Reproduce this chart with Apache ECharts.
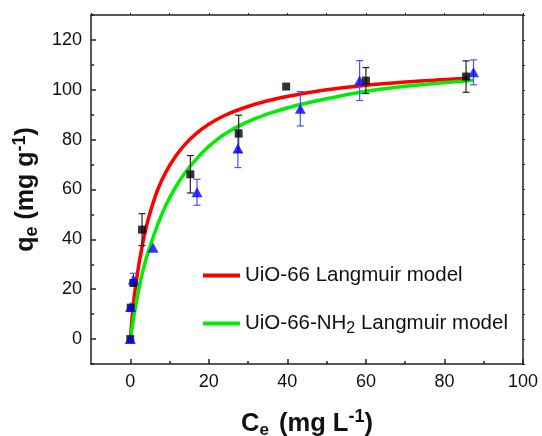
<!DOCTYPE html>
<html>
<head>
<meta charset="utf-8">
<script src="https://cdn.jsdelivr.net/npm/echarts@6/dist/echarts.min.js"></script>
<style>
  html, body { margin: 0; padding: 0; background: #fff; }
  #chart { width: 542px; height: 436px; }
</style>
</head>
<body>
<div id="chart"></div>
<script>
// tick labels
var xTickLabels = [0, 20, 40, 60, 80, 100];
var xMinorTicks = [10, 30, 50, 70, 90];
var yTickLabels = [0, 20, 40, 60, 80, 100, 120];
var yMinorTicks = [-10, 10, 30, 50, 70, 90, 110, 130];
var allXTicks = [-10, 0, 10, 20, 30, 40, 50, 60, 70, 80, 90, 100];
var allYTicks = [-10, 0, 10, 20, 30, 40, 50, 60, 70, 80, 90, 100, 110, 120, 130];

// UiO-66 measured points [Ce, qe] and error bars [Ce, low, high]
var uio66Points = [[0, 0], [0.1, 12.6], [0.8, 22.5], [3, 43.9], [15.3, 66.1], [27.6, 82.4], [39.7, 101.3], [60, 103.7], [85.5, 105.3]];
var uio66Err = [[3, 37.5, 50.3], [15.3, 58.6, 73.6], [27.6, 75, 89.8], [60, 98.5, 108.9], [85.5, 99, 111.6]];

// UiO-66-NH2 measured points and error bars
var nh2Points = [[0, 0], [0.1, 12.9], [0.8, 23.9], [5.8, 36.6], [17, 58.9], [27.4, 76.4], [43.3, 92.4], [58.4, 103.7], [87.4, 107]];
var nh2Err = [[0.8, 21.4, 26.4], [17, 53.7, 64.1], [27.4, 68.8, 84], [43.3, 85.5, 99.3], [58.4, 95.7, 111.7], [87.4, 102, 112]];

// Langmuir model curves
var uio66FitC = [0, 0.5, 1, 2, 3, 4, 5, 7, 9, 11.5, 14, 17, 20, 24, 29, 35, 42, 50, 60, 70, 78, 86];
var uio66FitQ = [0, 9, 17, 28, 37, 44.5, 50.5, 60, 66.8, 73.2, 78.2, 82.7, 86.2, 89.7, 92.8, 95.6, 97.9, 100, 101.8, 103.1, 103.9, 104.6];
var nh2FitC = [0, 0.5, 1, 2, 3, 4, 5, 7, 9, 11.5, 14, 17, 20, 24, 29, 35, 42, 50, 60, 70, 78, 87.5];
var nh2FitQ = [0, 5, 10, 18.5, 26, 32, 37, 46, 53.5, 60.8, 66.8, 72.5, 77.3, 82.2, 86.5, 90.3, 93.6, 96.4, 99.4, 101.4, 102.6, 103.8];

function zip(a, b) {
  return a.map(function (v, i) { return [v, b[i]]; });
}

function errorBar(color) {
  return function (params, api) {
    var x = api.value(0);
    var top = api.coord([x, api.value(2)]);
    var bot = api.coord([x, api.value(1)]);
    var w = 3.5;
    var style = { stroke: color, lineWidth: 1.2 };
    return {
      type: 'group',
      children: [
        { type: 'line', shape: { x1: top[0], y1: top[1], x2: bot[0], y2: bot[1] }, style: style },
        { type: 'line', shape: { x1: top[0] - w, y1: top[1], x2: top[0] + w, y2: top[1] }, style: style },
        { type: 'line', shape: { x1: bot[0] - w, y1: bot[1], x2: bot[0] + w, y2: bot[1] }, style: style }
      ]
    };
  };
}

var font = 'Liberation Sans, Arial, sans-serif';
var axisLine = { show: true, onZero: false, lineStyle: { color: '#222', width: 1.5 } };
var noLine = { show: false, onZero: false };

var chart = echarts.init(document.getElementById('chart'));
chart.setOption({
  animation: false,
  grid: { left: 91, right: 19, top: 15, bottom: 72, outerBoundsMode: 'none', containLabel: false },
  legend: {
    data: ['UiO-66 Langmuir model', 'UiO-66-NH2 Langmuir model'],
    orient: 'vertical',
    left: 203,
    top: 265,
    padding: 0,
    itemGap: 27,
    itemWidth: 37,
    itemHeight: 4,
    icon: 'rect',
    textStyle: {
      fontFamily: font,
      fontSize: 20.5,
      color: '#111',
      rich: {
        sub: { fontFamily: font, fontSize: 16, color: '#111', padding: [10, 0, 0, 0], verticalAlign: 'bottom' }
      }
    },
    formatter: function (name) {
      return name === 'UiO-66-NH2 Langmuir model' ? 'UiO-66-NH{sub|2} Langmuir model' : name;
    }
  },
  xAxis: [
    {
      type: 'value', min: -10, max: 100, interval: 10,
      position: 'bottom',
      name: 'C{sub|e} (mg L{sup|-1})',
      nameLocation: 'middle',
      nameGap: 44,
      nameTextStyle: {
        fontFamily: font, fontSize: 25.5, fontWeight: 'bold', color: '#111',
        rich: {
          sub: { fontFamily: font, fontSize: 17, fontWeight: 'bold', padding: [14, 3, 0, 0], verticalAlign: 'bottom' },
          sup: { fontFamily: font, fontSize: 18, fontWeight: 'bold', padding: [0, 0, 12, 0], verticalAlign: 'top' }
        }
      },
      axisLine: axisLine,
      axisTick: { inside: true, length: 5, customValues: xTickLabels, lineStyle: { color: '#222', width: 1.5 } },
      axisLabel: { customValues: xTickLabels, margin: 9, fontFamily: font, fontSize: 18, color: '#111' },
      splitLine: { show: false }
    },
    {
      type: 'value', min: -10, max: 100, interval: 10,
      position: 'bottom',
      axisLine: noLine,
      axisTick: { inside: true, length: 3, customValues: xMinorTicks, lineStyle: { color: '#222', width: 1.5 } },
      axisLabel: { show: false },
      splitLine: { show: false }
    },
    {
      type: 'value', min: -10, max: 100, interval: 10,
      position: 'top',
      axisLine: axisLine,
      axisTick: { inside: false, length: 2, customValues: allXTicks, lineStyle: { color: '#222', width: 1 } },
      axisLabel: { show: false },
      splitLine: { show: false }
    }
  ],
  yAxis: [
    {
      type: 'value', min: -10, max: 130, interval: 10,
      position: 'left',
      name: 'q{sub|e} (mg g{sup|-1})',
      nameLocation: 'middle',
      nameRotate: 90,
      nameGap: 50,
      nameTextStyle: {
        fontFamily: font, fontSize: 25, fontWeight: 'bold', color: '#111',
        rich: {
          sub: { fontFamily: font, fontSize: 18, fontWeight: 'bold', padding: [12, 0, 0, 0], verticalAlign: 'bottom' },
          sup: { fontFamily: font, fontSize: 18, fontWeight: 'bold', padding: [0, 0, 12, 0], verticalAlign: 'top' }
        }
      },
      axisLine: axisLine,
      axisTick: { inside: true, length: 5, customValues: yTickLabels, lineStyle: { color: '#222', width: 1.5 } },
      axisLabel: { customValues: yTickLabels, margin: 9, fontFamily: font, fontSize: 18, color: '#111' },
      splitLine: { show: false }
    },
    {
      type: 'value', min: -10, max: 130, interval: 10,
      position: 'left',
      axisLine: noLine,
      axisTick: { inside: true, length: 3, customValues: yMinorTicks, lineStyle: { color: '#222', width: 1.5 } },
      axisLabel: { show: false },
      splitLine: { show: false }
    },
    {
      type: 'value', min: -10, max: 130, interval: 10,
      position: 'right',
      axisLine: axisLine,
      axisTick: { inside: false, length: 2, customValues: allYTicks, lineStyle: { color: '#222', width: 1 } },
      axisLabel: { show: false },
      splitLine: { show: false }
    }
  ],
  series: [
    {
      name: 'UiO-66 Langmuir model',
      type: 'line',
      data: zip(uio66FitC, uio66FitQ),
      smooth: 0.3,
      symbol: 'none',
      color: '#ff0000',
      lineStyle: { color: '#ff0000', width: 3.5 },
      z: 2
    },
    {
      name: 'UiO-66-NH2 Langmuir model',
      type: 'line',
      data: zip(nh2FitC, nh2FitQ),
      smooth: 0.3,
      symbol: 'none',
      color: '#00ee00',
      lineStyle: { color: '#00ee00', width: 3.5 },
      z: 2
    },
    {
      name: 'UiO-66 error',
      type: 'custom',
      renderItem: errorBar('#222'),
      data: uio66Err,
      encode: { x: 0, y: [1, 2] },
      z: 3
    },
    {
      name: 'UiO-66-NH2 error',
      type: 'custom',
      renderItem: errorBar('#5050ff'),
      data: nh2Err,
      encode: { x: 0, y: [1, 2] },
      z: 3
    },
    {
      name: 'UiO-66',
      type: 'scatter',
      data: uio66Points,
      symbol: 'rect',
      symbolSize: 8,
      itemStyle: { color: '#000' },
      z: 4
    },
    {
      name: 'UiO-66-NH2',
      type: 'scatter',
      data: nh2Points,
      symbol: 'triangle',
      symbolSize: [11, 10],
      itemStyle: { color: '#0000ff' },
      z: 5
    }
  ]
});
</script>
</body>
</html>
